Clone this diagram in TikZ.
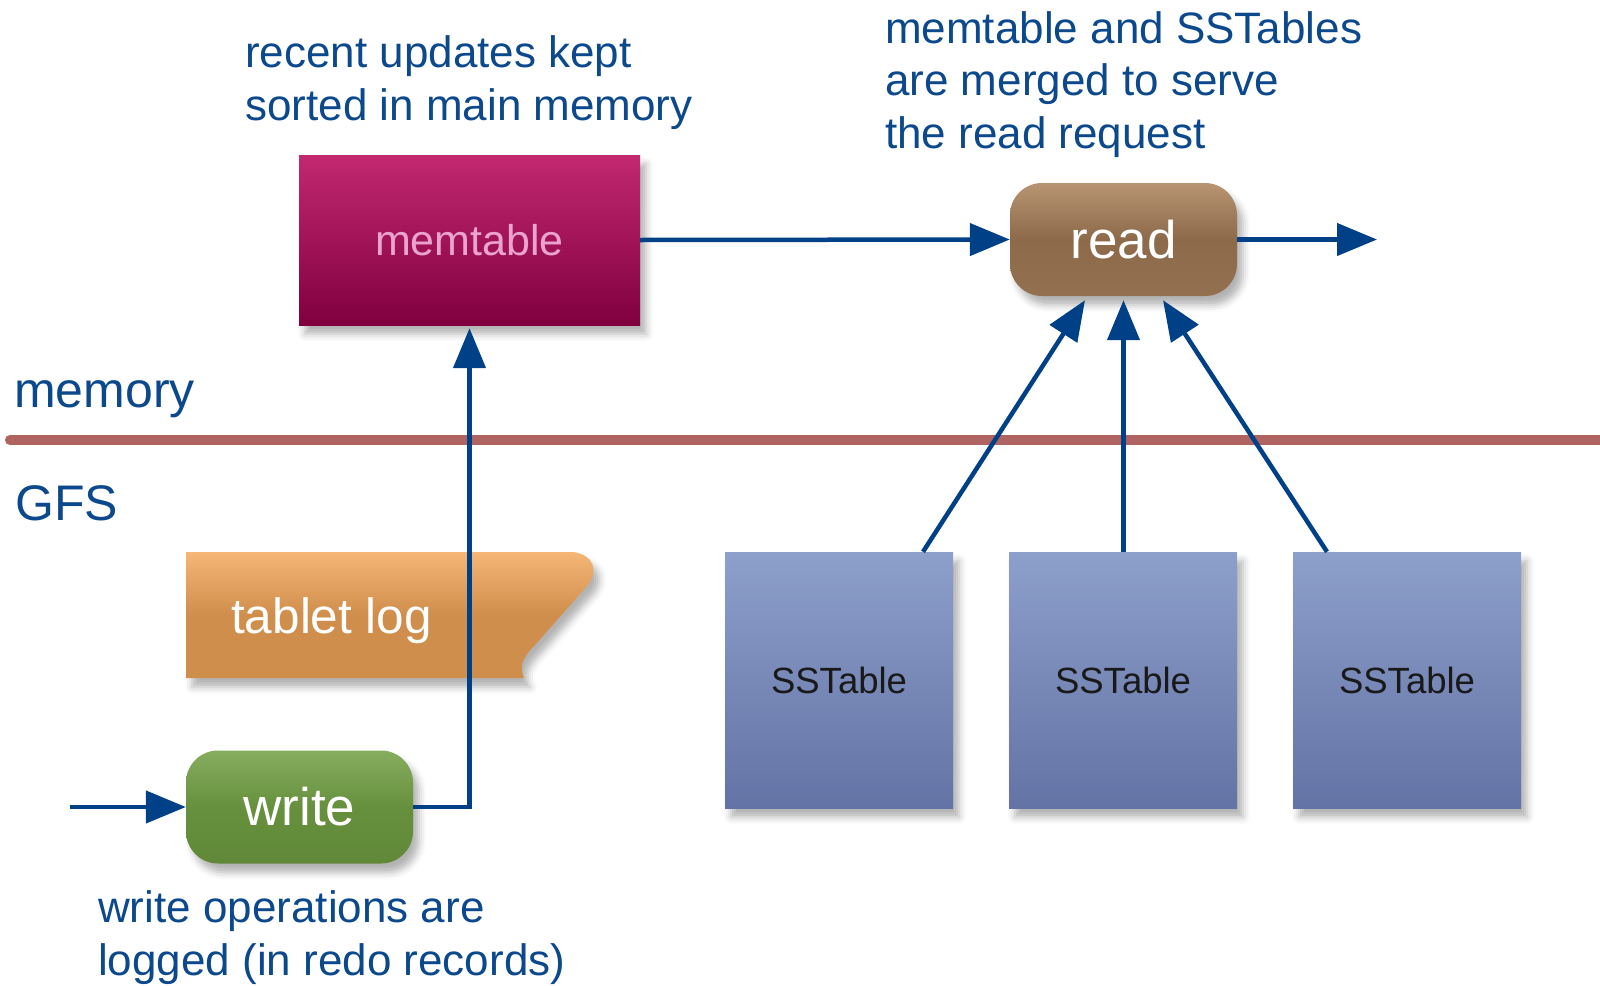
\documentclass[tikz,border=0pt]{standalone}
\usepackage{fontspec}
\setmainfont{Liberation Sans}
\usetikzlibrary{arrows.meta,shadows.blur,calc}
\definecolor{arrowblue}{RGB}{0,64,135}
\definecolor{noteblue}{RGB}{12,72,140}
\definecolor{sepred}{RGB}{176,100,97}
\definecolor{memtop}{RGB}{194,40,112}
\definecolor{membot}{RGB}{128,0,62}
\definecolor{memtext}{RGB}{234,163,207}
\definecolor{readtop}{RGB}{184,148,114}
\definecolor{readmid}{RGB}{140,106,74}
\definecolor{readbot}{RGB}{146,112,80}
\definecolor{writetop}{RGB}{134,173,94}
\definecolor{writemid}{RGB}{102,144,62}
\definecolor{writebot}{RGB}{96,136,56}
\definecolor{logtop}{RGB}{245,182,118}
\definecolor{logbot}{RGB}{208,142,76}
\definecolor{ssttop}{RGB}{141,159,203}
\definecolor{sstbot}{RGB}{99,115,165}
\begin{document}
\begin{tikzpicture}[x=1pt,y=-1pt,
  myshadow/.style={blur shadow={shadow xshift=6pt,shadow yshift=-9pt,shadow blur radius=7pt,shadow opacity=30}},
  membox/.style={myshadow,top color=memtop,bottom color=membot,draw=none,
    minimum width=341pt,minimum height=170pt,inner sep=0pt,
    text=memtext,font=\fontsize{43}{50}\selectfont},
  pill/.style={myshadow,draw=none,rounded corners=32pt,inner sep=0pt,
    minimum width=227pt,minimum height=113pt,text=white,font=\fontsize{53}{60}\selectfont},
  readbox/.style={pill,top color=readtop,bottom color=readbot,middle color=readmid},
  writebox/.style={pill,top color=writetop,bottom color=writebot,middle color=writemid},
  sstbox/.style={myshadow,top color=ssttop,bottom color=sstbot,draw=none,
    minimum width=228pt,minimum height=256pt,inner sep=0pt,
    text=black!90,font=\fontsize{36.5}{42}\selectfont},
  logshape/.style={myshadow,top color=logtop,bottom color=logbot,middle color=logbot},
  logtext/.style={text=white,inner sep=0pt,font=\fontsize{49.5}{56}\selectfont},
  note/.style={text=noteblue,inner sep=0pt,align=left,font=\fontsize{44}{52.5}\selectfont},
  layer/.style={text=noteblue,inner sep=0pt,font=\fontsize{50}{56}\selectfont},
  arr/.style={draw=arrowblue,line width=4.5pt,-{Triangle[length=40pt,width=32pt]}},
  sepline/.style={draw=sepred,line width=10pt,line cap=round}]
\useasboundingbox (0,0) rectangle (1600,985);

% separator
\draw[sepline] (10,440) -- (1600,440);
\node[layer,anchor=base west] (memlbl) at (14,407) {memory};
\node[layer,anchor=base west] (gfslbl) at (15,520) {GFS};

% notes (anchor at the baseline of the last line)
\node[note,anchor=base west] (n1) at (245,120) {recent updates kept\\sorted in main memory};
\node[note,anchor=base west] (n2) at (885,148) {memtable and SSTables\\are merged to serve\\the read request};
\node[note,anchor=base west] (n3) at (98,975) {write operations are\\logged (in redo records)};

% boxes
\node[membox] (mem) at (469.5,240) {memtable};
\node[readbox] (read) at (1123.5,239.5) {read};
\node[writebox] (write) at (299.5,807) {write};
\node[sstbox] (s1) at (839,680) {SSTable};
\node[sstbox] (s2) at (1123,680) {SSTable};
\node[sstbox] (s3) at (1407,680) {SSTable};

% tablet log
\path[logshape] (186,552) -- (573,552)
  .. controls (595,555) and (598,572) .. (588,585)
  -- (535,645) .. controls (520,660) and (520,668) .. (524,678)
  -- (186,678) -- cycle;
\node[logtext,anchor=base west] (log) at (231,633) {tablet log};

% connectors
\coordinate (in) at (70,807);
\coordinate (out) at (1377,239.5);
\draw[arr] (mem.east) -- (read.west);
\draw[arr] (read.east) -- (out);
\draw[arr] (in) -- (write.west);
\draw[arr,shorten >=3pt] (write.east) -| (mem.south);
\draw[arr] ([xshift=84pt]s1.north) -- ([xshift=-38.5pt,yshift=-4pt]read.south);
\draw[arr] ([xshift=0.5pt]s2.north) -- ([yshift=-4pt]read.south);
\draw[arr] ([xshift=-80pt]s3.north) -- ([xshift=39.5pt,yshift=-4pt]read.south);
\end{tikzpicture}
\end{document}
